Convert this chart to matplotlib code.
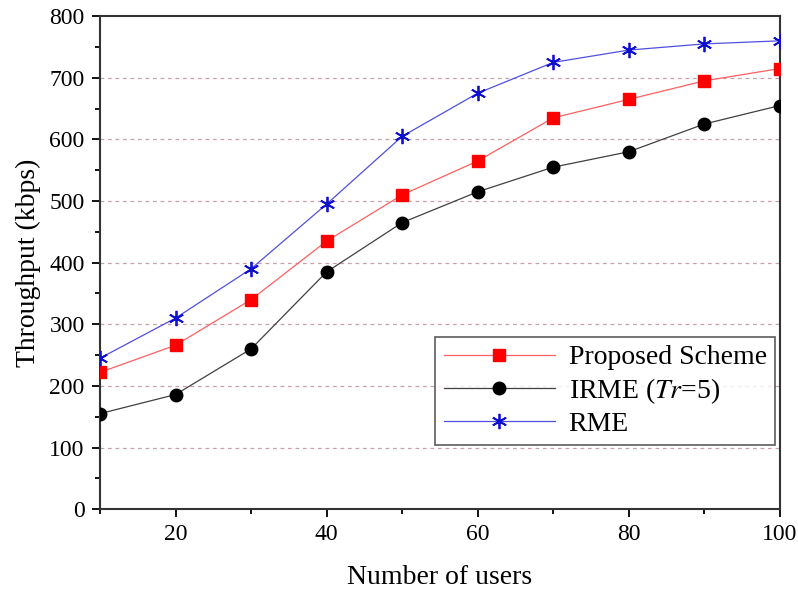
import matplotlib.pyplot as plt
from matplotlib.ticker import MultipleLocator

plt.rcParams['font.family'] = ['Liberation Serif', 'DejaVu Serif']
plt.rcParams['mathtext.fontset'] = 'stix'

users = [10, 20, 30, 40, 50, 60, 70, 80, 90, 100]
proposed = [222, 266, 340, 435, 510, 565, 635, 665, 695, 715]
irme = [155, 186, 260, 385, 465, 515, 555, 580, 625, 655]
rme = [245, 310, 390, 495, 605, 675, 725, 745, 755, 760]

fig = plt.figure(figsize=(7.98, 5.99), dpi=100)
ax = fig.add_axes([0.1253, 0.150, 0.852, 0.823])

ax.plot(users, proposed, color='#ff6060', lw=0.9, marker='s', ms=8,
        mfc='#ff0000', mec='#ff0000', label='Proposed Scheme', zorder=3)
ax.plot(users, irme, color='#404040', lw=0.9, marker='o', ms=9,
        mfc='black', mec='black', label='IRME ($\\mathit{Tr}$=5)', zorder=3)
ax.plot(users, rme, color='#5050e0', lw=0.9, marker=(6, 2, 0), ms=11,
        mew=1.3, mec='#1010d0', label='RME', zorder=3)

ax.set_xlim(10, 100)
ax.set_ylim(0, 800)
ax.xaxis.set_major_locator(MultipleLocator(20))
ax.xaxis.set_minor_locator(MultipleLocator(10))
ax.yaxis.set_major_locator(MultipleLocator(100))
ax.yaxis.set_minor_locator(MultipleLocator(50))
ax.tick_params(which='major', direction='out', length=6, width=1.3,
               labelsize=17, top=False, right=False, pad=5)
ax.tick_params(which='minor', direction='out', length=3.5, width=1.3,
               top=False, right=False)
for s in ax.spines.values():
    s.set_linewidth(1.5)
    s.set_color('#333333')

for yv in range(100, 800, 100):
    ax.axhline(yv, color='#c8a0a8', lw=0.9, ls=(0, (3, 3)), zorder=1)

ax.set_xlabel('Number of users', fontsize=20, labelpad=14)
ax.set_ylabel('Throughput (kbps)', fontsize=20, labelpad=6)

leg = ax.legend(loc='lower right', bbox_to_anchor=(0.993, 0.13), fontsize=20,
                frameon=True, fancybox=False, edgecolor='#333333',
                handlelength=4.0, borderpad=0.3, labelspacing=0.2,
                handletextpad=0.5, borderaxespad=0)
leg.get_frame().set_linewidth(1.2)

fig.savefig('out.png', dpi=100)
